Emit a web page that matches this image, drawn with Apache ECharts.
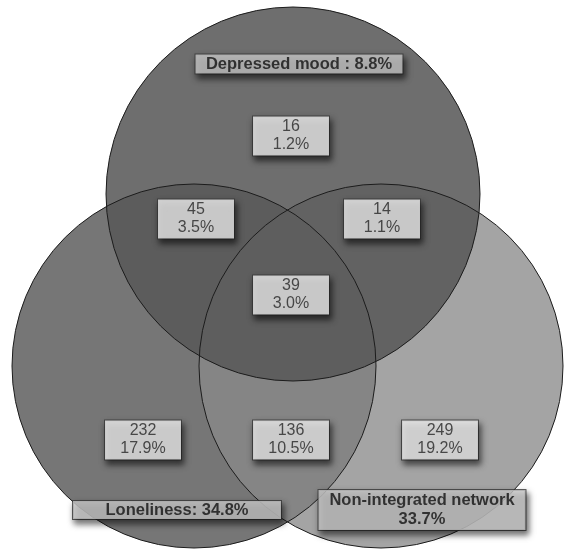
<!DOCTYPE html>
<html>
<head>
<meta charset="utf-8">
<script src="https://cdn.jsdelivr.net/npm/echarts@6/dist/echarts.min.js"></script>
<style>html,body{margin:0;padding:0;background:#fff;}#c{width:564px;height:552px;}</style>
</head>
<body>
<div id="c"></div>
<script>
// ---- data ----
var categories = ['Depressed mood', 'Loneliness', 'Non-integrated network'];
var setPercents = ['8.8%', '34.8%', '33.7%'];
var regionNames = ['Depressed only', 'Depressed & Loneliness', 'Depressed & Non-integrated', 'All three', 'Loneliness only', 'Loneliness & Non-integrated', 'Non-integrated only'];
var regionCounts = [16, 45, 14, 39, 232, 136, 249];
var regionPercents = ['1.2%', '3.5%', '1.1%', '3.0%', '17.9%', '10.5%', '19.2%'];

// ---- layout (axis units) ----
var circleCenters = [[293, 194], [194, 366], [381, 366]];
var circleRadii = [187, 182, 182];
var circleFills = ['rgba(88,88,88,0.87)', '#767676', 'rgba(137,137,137,0.774)'];
var drawOrder = [1, 2, 0];
var regionPos = [[291, 136], [196, 219], [382, 219], [291, 295], [143, 440], [291, 440], [440, 440]];
var setLabelPos = [[299, 64], [177, 510], [422, 510]];
var setLabelSize = [[207, 18], [208, 17], [207, 39]];

var circleData = drawOrder.map(function (i) {
  return [circleCenters[i][0], circleCenters[i][1], circleRadii[i], i];
});

function renderCircle(fillMode) {
  return function (params, api) {
    var c = api.coord([api.value(0), api.value(1)]);
    var r = Math.abs(api.size([api.value(2), 0])[0]);
    var idx = api.value(3);
    return {
      type: 'circle',
      shape: { cx: c[0], cy: c[1], r: r },
      style: fillMode ? { fill: circleFills[idx], stroke: null }
                      : { fill: null, stroke: '#1c1c1c', lineWidth: 1 },
      silent: true
    };
  };
}

var regionData = regionPos.map(function (p, i) {
  return { value: [p[0], p[1]], name: regionNames[i], count: regionCounts[i], pct: regionPercents[i] };
});

var setData = setLabelPos.map(function (p, i) {
  var text = i === 2 ? categories[i] + '\n' + setPercents[i]
           : (i === 0 ? categories[i] + ' : ' + setPercents[i] : categories[i] + ': ' + setPercents[i]);
  return {
    value: [p[0], p[1]],
    label: {
      formatter: text,
      width: setLabelSize[i][0],
      height: setLabelSize[i][1]
    }
  };
});

var chart = echarts.init(document.getElementById('c'), null, { renderer: 'canvas' });
chart.setOption({
  backgroundColor: '#ffffff',
  animation: false,
  grid: { left: 0, right: 0, top: 0, bottom: 0 },
  xAxis: { type: 'value', min: 0, max: 564, show: false },
  yAxis: { type: 'value', min: 0, max: 552, inverse: true, show: false },
  series: [
    {
      type: 'custom',
      renderItem: renderCircle(true),
      data: circleData,
      z: 1
    },
    {
      type: 'custom',
      renderItem: renderCircle(false),
      data: circleData,
      z: 2
    },
    {
      type: 'scatter',
      symbolSize: 1,
      itemStyle: { color: 'rgba(0,0,0,0)' },
      data: regionData,
      z: 3,
      label: {
        show: true,
        position: 'inside',
        formatter: function (p) { return p.data.count + '\n' + p.data.pct; },
        fontFamily: 'Liberation Sans, Arial, sans-serif',
        fontSize: 16,
        lineHeight: 18,
        color: '#262626',
        align: 'center',
        verticalAlign: 'middle',
        width: 76,
        height: 38,
        padding: [1, 0, 0, 0],
        backgroundColor: '#f0f0f0',
        borderColor: '#3a3a3a',
        borderWidth: 1,
        shadowColor: 'rgba(0,0,0,0.7)',
        shadowBlur: 6,
        shadowOffsetX: 2,
        shadowOffsetY: 4
      }
    },
    {
      type: 'scatter',
      symbolSize: 1,
      itemStyle: { color: 'rgba(0,0,0,0)' },
      data: setData,
      z: 4,
      label: {
        show: true,
        position: 'inside',
        fontFamily: 'Liberation Sans, Arial, sans-serif',
        fontWeight: 'bold',
        fontSize: 16.5,
        lineHeight: 19,
        color: '#111111',
        align: 'center',
        verticalAlign: 'middle',
        padding: [1, 0, 0, 0],
        backgroundColor: '#c9c9c9',
        borderColor: '#3a3a3a',
        borderWidth: 1,
        shadowColor: 'rgba(0,0,0,0.7)',
        shadowBlur: 6,
        shadowOffsetX: 2,
        shadowOffsetY: 4
      }
    }
  ]
});
</script>
</body>
</html>
